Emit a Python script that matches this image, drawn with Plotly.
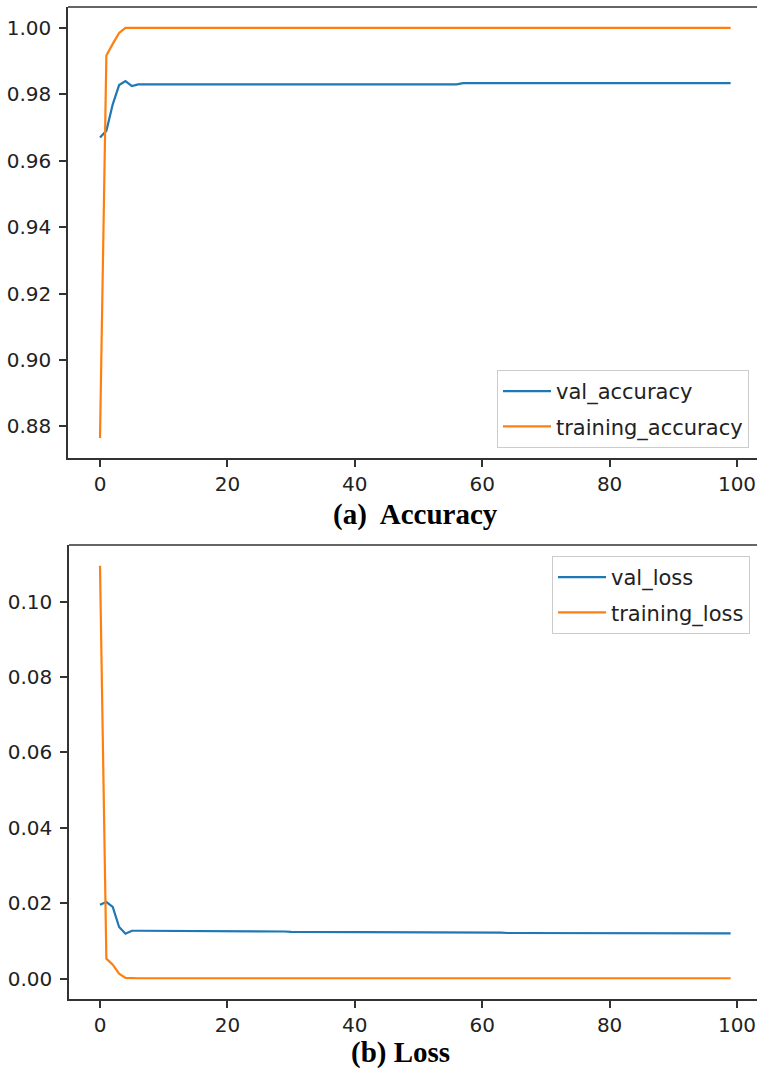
import plotly.graph_objects as go

epochs = list(range(100))

val_accuracy = [0.967, 0.969, 0.977, 0.9828, 0.984, 0.9825] + [0.983] * 51 + [0.9834] * 43
training_accuracy = [0.8765, 0.9917, 0.9952, 0.9985] + [1.0] * 96

val_loss = [0.0196, 0.0203, 0.0190, 0.0137, 0.0119, 0.0127,
            0.0127, 0.0127, 0.0127, 0.0127, 0.0127, 0.0126, 0.0126, 0.0126, 0.0126, 0.0126,
            0.0126, 0.0126, 0.0126, 0.0126, 0.0125, 0.0125, 0.0125, 0.0125, 0.0125, 0.0125,
            0.0125, 0.0125, 0.0125, 0.0125, 0.0124, 0.0124, 0.0124, 0.0124, 0.0124, 0.0124,
            0.0124, 0.0124, 0.0124, 0.0124, 0.0123, 0.0123, 0.0123, 0.0123, 0.0123, 0.0123,
            0.0123, 0.0123, 0.0123, 0.0123, 0.0123, 0.0122, 0.0122, 0.0122, 0.0122, 0.0122,
            0.0122, 0.0122, 0.0122, 0.0122, 0.0122, 0.0122, 0.0122, 0.0122, 0.0121, 0.0121,
            0.0121, 0.0121, 0.0121, 0.0121, 0.0121, 0.0121, 0.0121, 0.0121, 0.0121, 0.0121,
            0.0121, 0.0121, 0.0121, 0.0121, 0.0120, 0.0120, 0.0120, 0.0120, 0.0120, 0.0120,
            0.0120, 0.0120, 0.0120, 0.0120, 0.0120, 0.0120, 0.0120, 0.0120, 0.0120, 0.0120,
            0.0120, 0.0120, 0.0120, 0.0120]
training_loss = [0.1095, 0.0053, 0.0037, 0.0013, 0.0002] + [0.0001] * 95

x_ticks = [0, 20, 40, 60, 80, 100]
acc_ticks = [0.88, 0.90, 0.92, 0.94, 0.96, 0.98, 1.00]
loss_ticks = [0.00, 0.02, 0.04, 0.06, 0.08, 0.10]

BLUE = "#1f77b4"
ORANGE = "#ff7f0e"
AX = "#333333"
TXT = "#222222"
W, H = 757, 1070

fig = go.Figure()
fig.add_trace(go.Scatter(x=epochs, y=val_accuracy, mode="lines", name="val_accuracy",
                         line=dict(color=BLUE, width=2.2), xaxis="x", yaxis="y",
                         legend="legend", legendgroup="a1"))
fig.add_trace(go.Scatter(x=epochs, y=training_accuracy, mode="lines", name="training_accuracy",
                         line=dict(color=ORANGE, width=2.2), xaxis="x", yaxis="y",
                         legend="legend", legendgroup="a2"))
fig.add_trace(go.Scatter(x=epochs, y=val_loss, mode="lines", name="val_loss",
                         line=dict(color=BLUE, width=2.2), xaxis="x2", yaxis="y2",
                         legend="legend2", legendgroup="b1"))
fig.add_trace(go.Scatter(x=epochs, y=training_loss, mode="lines", name="training_loss",
                         line=dict(color=ORANGE, width=2.2), xaxis="x2", yaxis="y2",
                         legend="legend2", legendgroup="b2"))

px_per_unit = 6.37
def xdom(left_px):
    return [left_px / W, 1.0]
def xrange_(left_px):
    zero_px = 100
    return [-(zero_px - left_px) / px_per_unit, (W - zero_px) / px_per_unit]

def ydom(top_px, bot_px):
    return [(H - bot_px) / H, (H - top_px) / H]

axis_common = dict(showgrid=False, zeroline=False, showline=True, linecolor=AX, linewidth=1.5,
                   ticks="outside", ticklen=7, tickwidth=1.5, tickcolor=AX,
                   tickfont=dict(family="DejaVu Sans", size=20, color=TXT))

legend_common = dict(bgcolor="white", bordercolor="#cccccc", borderwidth=1,
                     font=dict(family="DejaVu Sans", size=21, color=TXT),
                     tracegroupgap=5, itemwidth=48)

fig.update_layout(
    width=W, height=H, margin=dict(l=0, r=0, t=0, b=0),
    plot_bgcolor="white", paper_bgcolor="white",
    showlegend=True,
    xaxis=dict(domain=xdom(68), range=xrange_(68), anchor="y", tickvals=x_ticks, **axis_common),
    yaxis=dict(domain=ydom(7, 458), range=[0.8705, 1.0063], anchor="x", tickvals=acc_ticks,
               tickformat=".2f", ticklabelstandoff=4, **axis_common),
    xaxis2=dict(domain=xdom(69), range=xrange_(69), anchor="y2", tickvals=x_ticks, **axis_common),
    yaxis2=dict(domain=ydom(545, 999), range=[-0.0054, 0.1150], anchor="x2", tickvals=loss_ticks,
                tickformat=".2f", ticklabelstandoff=4, **axis_common),
    legend=dict(x=749 / W, y=(H - 448) / H, xanchor="right", yanchor="bottom", **legend_common),
    legend2=dict(x=750 / W, y=(H - 556) / H, xanchor="right", yanchor="top", **legend_common),
)

# top spines of the two panels
for top_px, left_px in [(7, 68), (545, 69)]:
    fig.add_shape(type="line", xref="paper", yref="paper",
                  x0=left_px / W, x1=1.0, y0=(H - top_px) / H, y1=(H - top_px) / H,
                  line=dict(color=AX, width=1.5))

fig.add_annotation(text="<b>(a)  Accuracy</b>", xref="paper", yref="paper",
                   x=415 / W, y=(H - 514) / H, xanchor="center", yanchor="middle",
                   showarrow=False,
                   font=dict(family="Liberation Serif", size=29, color="black"))
fig.add_annotation(text="<b>(b) Loss</b>", xref="paper", yref="paper",
                   x=400 / W, y=(H - 1052) / H, xanchor="center", yanchor="middle",
                   showarrow=False,
                   font=dict(family="Liberation Serif", size=29, color="black"))

fig.write_html("out.html", config={"displayModeBar": False},
               post_script="document.body.style.margin='0';document.body.style.overflow='hidden';")
